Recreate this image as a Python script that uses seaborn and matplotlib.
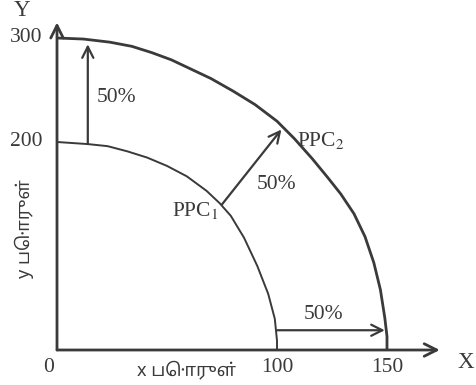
import matplotlib
matplotlib.use("Agg")
import matplotlib.pyplot as plt
import seaborn as sns
import pandas as pd

# ---- data ----
ppc1_x = [0, 14, 23, 32, 41, 50, 59, 68, 74, 79, 85, 91, 96, 99, 100, 100]
ppc1_y = [200, 198, 196, 191, 185, 177, 167, 153, 141, 129, 108, 81, 54, 30, 9, 0]
ppc2_x = [0, 12, 24, 34, 43, 52, 61, 70, 80, 90, 100, 108, 116, 123, 129, 135, 140, 144, 147, 149, 150, 150]
ppc2_y = [300, 299, 296, 292, 286, 279, 270, 261, 249, 236, 220, 203, 184, 166, 150, 131, 109, 84, 58, 31, 13, 0]
x_ticks = [0, 100, 150]
y_ticks = [200, 300]
shift_label = "50%"
curve_labels = ["PPC$_1$", "PPC$_2$"]
x_axis_label = "x பொருள்"
y_axis_label = "y பொருள்"

sns.set_style("white")
plt.rcParams["font.family"] = ["Liberation Serif", "DejaVu Serif"]
plt.rcParams["mathtext.fontset"] = "stix"

ink = "#3a3a3a"
fig = plt.figure(figsize=(4.77, 3.85), dpi=100)
ax = fig.add_axes([57 / 477, 35 / 385, 418 / 477, 340 / 385])
ax.set_xlim(0, 190)
ax.set_ylim(0, 340 / 1.04)
for s in ax.spines.values():
    s.set_visible(False)

df1 = pd.DataFrame({"x": ppc1_x, "y": ppc1_y})
df2 = pd.DataFrame({"x": ppc2_x, "y": ppc2_y})
sns.lineplot(data=df1, x="x", y="y", sort=False, estimator=None, color=ink, lw=1.4,
             solid_joinstyle="round", ax=ax)
sns.lineplot(data=df2, x="x", y="y", sort=False, estimator=None, color=ink, lw=2.0,
             solid_joinstyle="round", ax=ax)
ax.set_xlabel("")
ax.set_ylabel("")
ax.set_xticks([])
ax.set_yticks([])

# axes drawn as arrows
ap_axis = dict(arrowstyle="->,head_length=0.9,head_width=0.45", color=ink, lw=2.0, shrinkA=0, shrinkB=0)
ax.annotate("", xy=(0, 315), xytext=(0, 0), arrowprops=ap_axis, annotation_clip=False)
ax.annotate("", xy=(174, 0), xytext=(0, 0), arrowprops=ap_axis, annotation_clip=False)

# 50% shift arrows
ap = dict(arrowstyle="->,head_length=0.8,head_width=0.4", color=ink, lw=1.6, shrinkA=0, shrinkB=0)
ax.annotate("", xy=(14, 294), xytext=(14, 198), arrowprops=ap)
ax.annotate("", xy=(102, 212), xytext=(75, 140), arrowprops=ap)
ax.annotate("", xy=(149, 19), xytext=(100, 19), arrowprops=ap)

fs = 15.5
ax.text(27, 243, shift_label, fontsize=fs, color=ink, ha="center", va="center")
ax.text(100, 159, shift_label, fontsize=fs, color=ink, ha="center", va="center")
ax.text(121, 34, shift_label, fontsize=fs, color=ink, ha="center", va="center")
ax.text(63, 134, curve_labels[0], fontsize=fs, color=ink, ha="center", va="center")
ax.text(120, 201, curve_labels[1], fontsize=fs, color=ink, ha="center", va="center")

# tick labels
for v in y_ticks:
    ax.text(-14, v, str(v), fontsize=fs, color=ink, ha="center", va="center")
for v in x_ticks:
    ax.text(v - (4 if v == 0 else 0), -17, str(v), fontsize=fs, color=ink, ha="center", va="center", clip_on=False)
ax.text(-16, 326, "Y", fontsize=fs + 1, color=ink, ha="center", va="center", clip_on=False)
ax.text(186, -12, "X", fontsize=fs + 1, color=ink, ha="center", va="center", clip_on=False)

tam = ["Noto Sans Tamil", "Noto Serif Tamil", "Lohit Tamil", "Liberation Serif", "DejaVu Sans"]
ax.text(59, -19, x_axis_label, fontsize=13, color=ink, ha="center", va="center", family=tam, clip_on=False)
ax.text(-15, 117, y_axis_label, fontsize=13, color=ink, ha="center", va="center", rotation=90, family=tam, clip_on=False)

fig.savefig("out.png", dpi=100, facecolor="white")
